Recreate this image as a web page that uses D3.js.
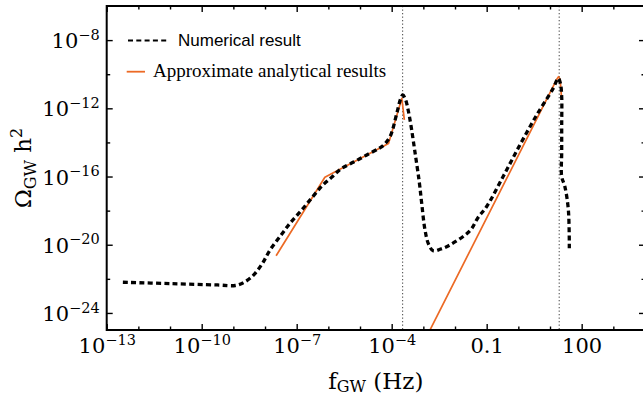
<!DOCTYPE html>
<html><head><meta charset="utf-8">
<script src="https://cdn.jsdelivr.net/npm/d3@7"></script>
<style>body{margin:0;background:#fff;} svg{display:block;}</style>
</head><body>
<svg id="chart" width="643" height="396"></svg>
<script>
// ---- data ----
const numFreq = [3.24e-13, 1e-11, 3.16e-10, 1.15e-9, 2.0e-9, 3.98e-9, 7.94e-9, 1.45e-8, 3.16e-8, 6.17e-8,
  1.45e-7, 3.16e-7, 6.31e-7, 1.26e-6, 2.51e-6, 6.31e-6, 1.58e-5, 3.98e-5, 5.62e-5, 8.91e-5,
  1.45e-4, 1.91e-4, 2.24e-4, 2.75e-4, 3.31e-4, 3.98e-4, 5.37e-4, 7.41e-4, 8.91e-4, 1.12e-3,
  1.45e-3, 2.04e-3, 3.55e-3, 6.92e-3, 2.95e-2, 5.37e-2, 0.1, 0.331, 1.12, 3.80,
  12.6, 18.2, 21.4, 23.4, 23.4, 23.4, 23.4, 29.5, 38.0, 40.7];
const numOmega = [6.31e-23, 5.25e-23, 4.37e-23, 4.07e-23, 5.75e-23, 1.41e-22, 7.08e-22, 5.01e-21, 3.55e-20, 1.82e-19,
  1.10e-18, 6.31e-18, 2.82e-17, 8.91e-17, 2.82e-16, 7.08e-16, 1.78e-15, 4.47e-15, 7.08e-15, 2.19e-14,
  5.13e-13, 3.55e-12, 6.03e-12, 3.16e-12, 7.94e-13, 1.26e-13, 3.16e-15, 5.01e-17, 2.51e-18, 7.94e-20,
  1.12e-20, 4.47e-21, 5.62e-21, 9.77e-21, 6.61e-20, 3.98e-19, 1.74e-18, 1e-16, 7.08e-15, 4.07e-13,
  1.48e-11, 5.75e-11, 2.82e-11, 4.79e-12, 1e-13, 2.51e-15, 1e-16, 2.57e-17, 1.10e-18, 6.31e-21];

const anaFreq1 = [2.24e-8, 7.76e-7, 7.94e-5, 2.09e-4, 2.51e-4];
const anaOmega1 = [2.24e-21, 9.12e-17, 8.51e-15, 3.89e-12, 2.09e-13];
const anaFreq2 = [1e-3, 16.6, 18.6, 20.9, 23.4];
const anaOmega2 = [1.70e-26, 5.25e-11, 7.24e-11, 5.01e-11, 3.09e-12];

const markerFreqs = [2.22e-4, 19.5];

const xMajorTicks = [1e-13, 1e-10, 1e-7, 1e-4, 1e-1, 1e2];
const xTickBase = ["10", "10", "10", "10", "0.1", "100"];
const xTickExp = ["−13", "−10", "−7", "−4", "", ""];
const xMinorTicks = [1e-12, 1e-11, 1e-9, 1e-8, 1e-6, 1e-5, 1e-3, 1e-2, 1, 10, 1e3];
const yMajorTicks = [1e-24, 1e-20, 1e-16, 1e-12, 1e-8];
const yTickExp = ["−24", "−20", "−16", "−12", "−8"];
const yMinorTicks = [1e-22, 1e-18, 1e-14, 1e-10];

const legendLabels = ["Numerical result", "Approximate analytical results"];

// ---- layout ----
const L = 106.7, R = 645, T = 6, B = 330;
const orange = "#ec6a25";
const serif = "'DejaVu Serif', serif";

const svg = d3.select("#chart");
const x = d3.scaleLog().domain([1e-13, 1e4]).range([L, R]);
const y = d3.scaleLog().domain([1e-25, 1e-6]).range([B, T]);

svg.append("defs").append("clipPath").attr("id", "clip")
  .append("rect").attr("x", L).attr("y", T).attr("width", R - L).attr("height", B - T);

const plot = svg.append("g").attr("clip-path", "url(#clip)");

// vertical dotted markers
plot.selectAll("line.marker").data(markerFreqs).enter().append("line")
  .attr("x1", d => x(d)).attr("x2", d => x(d)).attr("y1", T).attr("y2", B)
  .attr("stroke", "#444").attr("stroke-width", 1).attr("stroke-dasharray", "1.3,2.2");

const line = d3.line().x(d => x(d[0])).y(d => y(d[1]));

// analytical
[[anaFreq1, anaOmega1], [anaFreq2, anaOmega2]].forEach(([fs, os]) => {
  plot.append("path").datum(fs.map((f, i) => [f, os[i]]))
    .attr("d", line).attr("fill", "none").attr("stroke", orange)
    .attr("stroke-width", 1.7).attr("stroke-linejoin", "round");
});

// numerical
plot.append("path").datum(numFreq.map((f, i) => [f, numOmega[i]]))
  .attr("d", line.curve(d3.curveCatmullRom.alpha(0.5)))
  .attr("fill", "none").attr("stroke", "#000").attr("stroke-width", 3.3)
  .attr("stroke-dasharray", "5,3.3");

// ---- axes ----
function styleAxis(g) {
  g.select(".domain").remove();
  g.selectAll(".tick line").attr("stroke", "#000").attr("stroke-width", 1.4);
}
const bottomMajor = svg.append("g").attr("transform", `translate(0,${B})`)
  .call(d3.axisBottom(x).tickValues(xMajorTicks).tickSize(-6).tickFormat(""));
styleAxis(bottomMajor);
svg.append("g").attr("transform", `translate(0,${B})`)
  .call(d3.axisBottom(x).tickValues(xMinorTicks).tickSize(-3.5).tickFormat("")).call(styleAxis);
svg.append("g").attr("transform", `translate(0,${T})`)
  .call(d3.axisTop(x).tickValues(xMajorTicks).tickSize(-6).tickFormat("")).call(styleAxis);
svg.append("g").attr("transform", `translate(0,${T})`)
  .call(d3.axisTop(x).tickValues(xMinorTicks).tickSize(-3.5).tickFormat("")).call(styleAxis);

const leftMajor = svg.append("g").attr("transform", `translate(${L},0)`)
  .call(d3.axisLeft(y).tickValues(yMajorTicks).tickSize(-6).tickFormat(""));
styleAxis(leftMajor);
svg.append("g").attr("transform", `translate(${L},0)`)
  .call(d3.axisLeft(y).tickValues(yMinorTicks).tickSize(-3.5).tickFormat("")).call(styleAxis);
svg.append("g").attr("transform", `translate(${R},0)`)
  .call(d3.axisRight(y).tickValues(yMajorTicks).tickSize(-6).tickFormat("")).call(styleAxis);
svg.append("g").attr("transform", `translate(${R},0)`)
  .call(d3.axisRight(y).tickValues(yMinorTicks).tickSize(-3.5).tickFormat("")).call(styleAxis);

// x tick labels
bottomMajor.selectAll(".tick").each(function(d, i) {
  const t = d3.select(this).select("text")
    .attr("y", 23.3).attr("dy", null).attr("text-anchor", "middle")
    .attr("font-family", serif).attr("font-size", 21).attr("fill", "#000").text(null);
  t.append("tspan").text(xTickBase[i]);
  if (xTickExp[i]) t.append("tspan").attr("dy", -8.3).attr("font-size", 14.5).text(xTickExp[i]);
});
// y tick labels
leftMajor.selectAll(".tick").each(function(d, i) {
  const t = d3.select(this).select("text")
    .attr("x", -7).attr("y", 7.5).attr("dy", null).attr("text-anchor", "end")
    .attr("font-family", serif).attr("font-size", 21).attr("fill", "#000").text(null);
  t.append("tspan").text("10");
  t.append("tspan").attr("dy", -8.3).attr("font-size", 14.5).text(yTickExp[i]);
});

// spines
svg.append("rect").attr("x", L).attr("y", T).attr("width", R - L).attr("height", B - T)
  .attr("fill", "none").attr("stroke", "#000").attr("stroke-width", 2);

// axis titles
const xt = svg.append("text").attr("x", (L + R) / 2).attr("y", 388.5).attr("text-anchor", "middle")
  .attr("font-family", serif).attr("font-size", 23);
xt.append("tspan").text("f");
xt.append("tspan").attr("font-size", 16).attr("dy", 3.5).text("GW");
xt.append("tspan").attr("dy", -3.5).text(" (Hz)");

const yt = svg.append("text").attr("transform", `translate(31,${(T + B) / 2}) rotate(-90)`)
  .attr("text-anchor", "middle").attr("font-family", serif).attr("font-size", 23);
yt.append("tspan").text("Ω");
yt.append("tspan").attr("font-size", 16).attr("dy", 5).text("GW");
yt.append("tspan").attr("dy", -5).text(" h");
yt.append("tspan").attr("font-size", 16).attr("dy", -9).text("2");

// legend
const lg = svg.append("g");
lg.append("line").attr("x1", 128).attr("x2", 168).attr("y1", 40.5).attr("y2", 40.5)
  .attr("stroke", "#000").attr("stroke-width", 2.2).attr("stroke-dasharray", "5,3.3");
lg.append("text").attr("x", 178).attr("y", 46).attr("font-family", "'Liberation Sans', Arial, sans-serif")
  .attr("font-size", 17).text(legendLabels[0]);
lg.append("line").attr("x1", 126.7).attr("x2", 145).attr("y1", 71.7).attr("y2", 71.7)
  .attr("stroke", orange).attr("stroke-width", 1.8);
lg.append("text").attr("x", 153).attr("y", 77).attr("font-family", "'Liberation Serif', serif")
  .attr("font-size", 19).text(legendLabels[1]);
</script>
</body></html>
